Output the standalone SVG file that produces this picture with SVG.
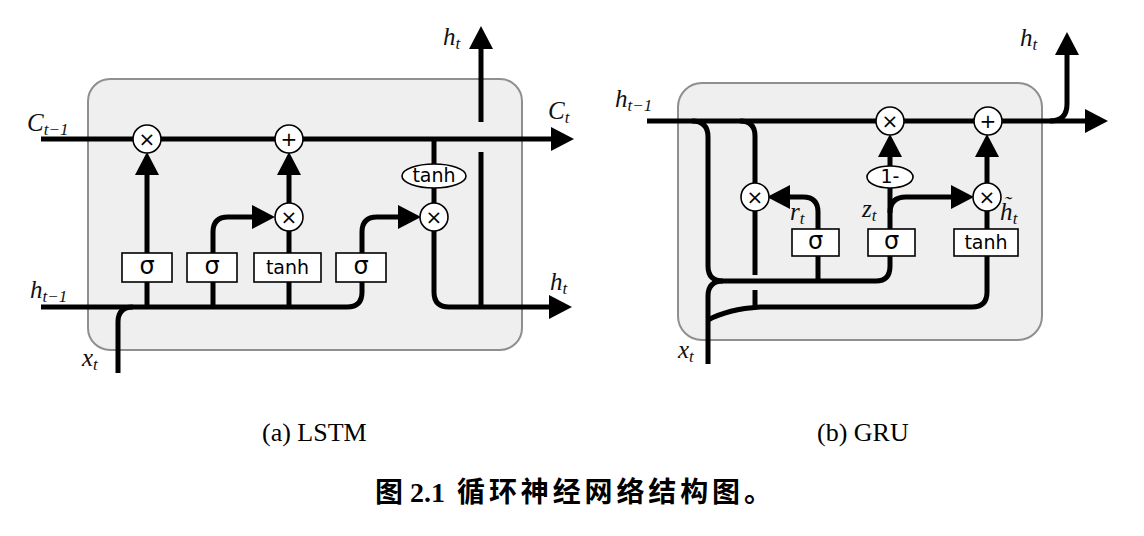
<svg xmlns="http://www.w3.org/2000/svg" width="1144" height="536" viewBox="0 0 1144 536">
<style>
.cell{fill:#efefef;stroke:#8f8f8f;stroke-width:2}
.ln{fill:none;stroke:#000;stroke-width:5;stroke-linecap:butt;stroke-linejoin:round}
.arr{marker-end:url(#ah)}
.op{fill:#fff;stroke:#000;stroke-width:1.6}
.bx{fill:#fff;stroke:#000;stroke-width:1.6}
.opt{font-family:"DejaVu Sans",sans-serif;font-size:20px;text-anchor:middle;dominant-baseline:central}
.bxt{font-family:"DejaVu Sans",sans-serif;font-size:19px;text-anchor:middle;dominant-baseline:central}
.sg{font-family:"DejaVu Sans",sans-serif;font-size:24px;text-anchor:middle;dominant-baseline:central}
.m{font-family:"Liberation Serif",serif;font-style:italic;font-size:25px;fill:#111}
.s{font-size:17px}
.cap{font-family:"Liberation Serif",serif;font-size:26px}
.ttl{font-family:"Liberation Serif","Noto Sans CJK SC",sans-serif;font-size:28px;font-weight:bold}
</style>
<defs>
<marker id="ah" markerUnits="userSpaceOnUse" markerWidth="26" markerHeight="26" refX="8" refY="12" orient="auto">
<path d="M0,0 L23,12 L0,24 z" fill="#000"/>
</marker>
</defs>

<g id="lstm-cell"><rect class="cell" x="88" y="79" width="434" height="271" rx="22"/></g>
<g id="gru-cell"><rect class="cell" x="678" y="83" width="364" height="257" rx="24"/></g>

<g id="connectors">
<!-- LSTM -->
<path class="ln arr" d="M41,139 H559"/>
<path class="ln arr" d="M147,307 V167"/>
<path class="ln arr" d="M213,307 V232 Q213,217 228,217 H260"/>
<path class="ln" d="M289,307 V217"/>
<path class="ln arr" d="M289,203 V167"/>
<path class="ln arr" d="M41,307 H347 Q362,307 362,292 V232 Q362,217 377,217 H406"/>
<path class="ln" d="M434,139 V217"/>
<path class="ln arr" d="M434,217 V292 Q434,307 449,307 H557"/>
<path class="ln" d="M481,307 V152"/>
<path class="ln arr" d="M481,122 V41"/>
<path class="ln" d="M118,373 V322 Q118,307 133,307"/>
<!-- GRU -->
<path class="ln arr" d="M647,121 H1093"/>
<path class="ln arr" d="M1050,121 Q1067,121 1067,104 V47"/>
<path class="ln" d="M692,121 Q708,121 708,137 V266 Q708,281 723,281 H876 Q890,281 890,266 V177"/>
<path class="ln" d="M708,364 V296 Q708,281 723,281"/>
<path class="ln arr" d="M818,281 V212 Q818,197 803,197 H782"/>
<path class="ln arr" d="M890,166 V149"/>
<path class="ln arr" d="M890,213 Q890,197 906,197 H959"/>
<path class="ln" d="M740,121 Q755,121 755,136 V275"/>
<path class="ln" d="M755,290 V307"/>
<path class="ln" d="M708,320 Q728,309 760,307 H972 Q987,307 987,292 V197"/>
<path class="ln arr" d="M987,183 V149"/>
</g>

<g id="lstm-f-mul"><circle class="op" cx="147" cy="139" r="14"/><text class="opt" x="147" y="139">×</text></g>
<g id="lstm-c-add"><circle class="op" cx="289" cy="139" r="14"/><text class="opt" x="289" y="139">+</text></g>
<g id="lstm-i-mul"><circle class="op" cx="289" cy="217" r="14"/><text class="opt" x="289" y="217">×</text></g>
<g id="lstm-o-mul"><circle class="op" cx="434" cy="217" r="14"/><text class="opt" x="434" y="217">×</text></g>
<g id="lstm-tanh-c"><ellipse class="op" cx="434" cy="176" rx="32" ry="12"/><text class="bxt" x="434" y="175">tanh</text></g>
<g id="lstm-sig-f"><rect class="bx" x="122" y="253" width="50" height="29"/><text class="sg" x="147" y="266">σ</text></g>
<g id="lstm-sig-i"><rect class="bx" x="187" y="253" width="50" height="29"/><text class="sg" x="212" y="266">σ</text></g>
<g id="lstm-tanh"><rect class="bx" x="254" y="253" width="67" height="29"/><text class="bxt" x="287.5" y="267">tanh</text></g>
<g id="lstm-sig-o"><rect class="bx" x="336" y="253" width="50" height="29"/><text class="sg" x="361" y="266">σ</text></g>

<g id="gru-z-mul"><circle class="op" cx="890" cy="121" r="14"/><text class="opt" x="890" y="121">×</text></g>
<g id="gru-add"><circle class="op" cx="988" cy="121" r="14"/><text class="opt" x="988" y="121">+</text></g>
<g id="gru-r-mul"><circle class="op" cx="755" cy="197" r="14"/><text class="opt" x="755" y="197">×</text></g>
<g id="gru-h-mul"><circle class="op" cx="987" cy="197" r="14"/><text class="opt" x="987" y="197">×</text></g>
<g id="gru-one-minus"><ellipse class="op" cx="890" cy="177" rx="23" ry="11"/><text class="bxt" x="890" y="176">1-</text></g>
<g id="gru-sig-r"><rect class="bx" x="792" y="229" width="47" height="27"/><text class="sg" x="815.5" y="241">σ</text></g>
<g id="gru-sig-z"><rect class="bx" x="868" y="229" width="47" height="27"/><text class="sg" x="891.5" y="241">σ</text></g>
<g id="gru-tanh"><rect class="bx" x="954" y="229" width="64" height="27"/><text class="bxt" x="986" y="242">tanh</text></g>

<g id="labels">
<text class="m" x="27" y="131">C<tspan class="s" dy="4">t−1</tspan></text>
<text class="m" x="30" y="298">h<tspan class="s" dy="4">t−1</tspan></text>
<text class="m" x="82" y="366">x<tspan class="s" dy="4">t</tspan></text>
<text class="m" x="443" y="45">h<tspan class="s" dy="4">t</tspan></text>
<text class="m" x="548" y="119">C<tspan class="s" dy="4">t</tspan></text>
<text class="m" x="550" y="290">h<tspan class="s" dy="4">t</tspan></text>
<text class="m" x="615" y="107">h<tspan class="s" dy="4">t−1</tspan></text>
<text class="m" x="1020" y="46">h<tspan class="s" dy="4">t</tspan></text>
<text class="m" x="678" y="358">x<tspan class="s" dy="4">t</tspan></text>
<text class="m" x="790" y="220">r<tspan class="s" dy="4">t</tspan></text>
<text class="m" x="862" y="217">z<tspan class="s" dy="4">t</tspan></text>
<text class="m" x="1000" y="220">h<tspan dx="-9" dy="-9" style="font-size:22px">˜</tspan><tspan class="s" dx="2" dy="13">t</tspan></text>
<text class="cap" x="262" y="441">(a) LSTM</text>
<text class="cap" x="817" y="441">(b) GRU</text>
<text class="ttl" x="375" y="502">图 2.1</text>
<text class="ttl" x="457" y="502" textLength="315" lengthAdjust="spacing">循环神经网络结构图。</text>
</g>
</svg>
